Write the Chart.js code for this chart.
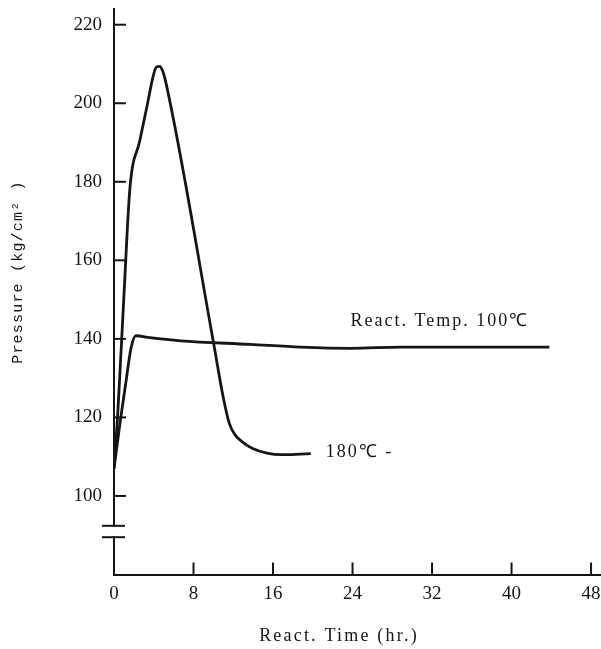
<!DOCTYPE html>
<html><head><meta charset="utf-8">
<script src="https://cdn.jsdelivr.net/npm/chart.js@4"></script>
<style>html,body{margin:0;padding:0;background:#fff;}#wrap{width:601px;height:649px;}</style>
</head><body><div id="wrap"><canvas id="c" width="601" height="649"></canvas></div>
<script>
// ---- data ----
const xTicks = [0, 8, 16, 24, 32, 40, 48];
const yTicks = [100, 120, 140, 160, 180, 200, 220];

const t180X = [0, 0.4, 1.0, 1.6, 2.6, 3.3, 4.0, 4.3, 4.6, 4.9, 5.2, 10.0, 11.0, 11.6, 12.2, 13.0, 14.0, 15.4, 16.8, 18.3, 19.8];
const t180Y = [107, 122, 151, 178.3, 190.5, 199, 207.5, 209.3, 209.4, 208.2, 205.5, 139.2, 125, 118.5, 115.5, 113.6, 112, 110.9, 110.5, 110.6, 110.8];

const t100X = [0, 0.6, 1.2, 1.7, 2.2, 3.6, 6.7, 13.7, 18.8, 23.8, 28.9, 43.8];
const t100Y = [107, 118.5, 129, 137.5, 140.8, 140.3, 139.5, 138.6, 137.9, 137.6, 137.9, 137.9];

const seriesNames = ["React. Temp. 100℃", "180℃ -"];
const seriesLabelX = [23.8, 21.3];
const seriesLabelY = [144.6, 111];

const axisBreak = [89.5, 92.4];
const xTitle = "React. Time (hr.)";
const yTitle = "Pressure (kg/cm² )";

const INK = '#151515';

const decor = {
  id: 'decor',
  afterDraw(chart) {
    const ctx = chart.ctx;
    const xs = chart.scales.x, ys = chart.scales.y;
    const ax = xs.getPixelForValue(0), ay = ys.getPixelForValue(80);
    ctx.save();
    ctx.strokeStyle = INK;
    ctx.lineWidth = 2;
    // inward ticks
    yTicks.forEach(v => {
      const py = ys.getPixelForValue(v);
      ctx.beginPath(); ctx.moveTo(ax, py); ctx.lineTo(ax + 12, py); ctx.stroke();
    });
    xTicks.forEach(v => {
      if (v === 0) return;
      const px = xs.getPixelForValue(v);
      ctx.beginPath(); ctx.moveTo(px, ay); ctx.lineTo(px, ay - 12); ctx.stroke();
    });
    // axis break
    const b0 = ys.getPixelForValue(axisBreak[0]), b1 = ys.getPixelForValue(axisBreak[1]);
    ctx.fillStyle = '#fff';
    ctx.fillRect(ax - 3, b1 + 1, 6, b0 - b1 - 2);
    [b0, b1].forEach(py => {
      ctx.beginPath(); ctx.moveTo(ax - 12, py); ctx.lineTo(ax + 11, py); ctx.stroke();
    });
    // series labels
    ctx.fillStyle = INK;
    ctx.font = '18px "Liberation Serif", serif';
    ctx.textBaseline = 'middle';
    ctx.textAlign = 'left';
    if ('letterSpacing' in ctx) ctx.letterSpacing = '2px';
    seriesNames.forEach((s, i) => {
      ctx.fillText(s, xs.getPixelForValue(seriesLabelX[i]), ys.getPixelForValue(seriesLabelY[i]));
    });
    // x title
    ctx.textAlign = 'center';
    ctx.font = '18px "Liberation Serif", serif';
    if ('letterSpacing' in ctx) ctx.letterSpacing = '2.2px';
    ctx.fillText(xTitle, 339, 636);
    // y title
    ctx.translate(18, 272);
    ctx.rotate(-Math.PI / 2);
    ctx.font = '15px "Liberation Mono", monospace';
    if ('letterSpacing' in ctx) ctx.letterSpacing = '1.2px';
    ctx.fillText(yTitle, 0, 0);
    ctx.restore();
  }
};

new Chart(document.getElementById('c'), {
  type: 'line',
  data: {
    datasets: [
      { label: seriesNames[0], data: t100X.map((x, i) => ({ x, y: t100Y[i] })) },
      { label: seriesNames[1], data: t180X.map((x, i) => ({ x, y: t180Y[i] })) }
    ].map(d => Object.assign(d, {
      borderColor: INK, borderWidth: 2.8, pointRadius: 0, fill: false,
      cubicInterpolationMode: 'monotone'
    }))
  },
  options: {
    responsive: false, animation: false, devicePixelRatio: 1,
    layout: { padding: { top: 9, right: 0, left: 0, bottom: 0 } },
    plugins: { legend: { display: false }, tooltip: { enabled: false } },
    scales: {
      x: {
        type: 'linear', min: 0, max: 49,
        afterBuildTicks: s => { s.ticks = xTicks.map(v => ({ value: v })); },
        afterFit: s => { s.height = 74.5; s.paddingLeft = 0; s.paddingRight = 0; },
        grid: { display: false },
        border: { display: true, color: INK, width: 2 },
        ticks: { color: INK, padding: 0, maxRotation: 0, autoSkip: false,
                 font: { family: '"Liberation Serif", serif', size: 19 } }
      },
      y: {
        type: 'linear', min: 80, max: 224,
        afterBuildTicks: s => { s.ticks = yTicks.map(v => ({ value: v })); },
        afterFit: s => { s.width = 114; s.paddingTop = 0; s.paddingBottom = 0; },
        grid: { display: false },
        border: { display: true, color: INK, width: 2 },
        ticks: { color: INK, padding: 4, autoSkip: false,
                 font: { family: '"Liberation Serif", serif', size: 19 } }
      }
    }
  },
  plugins: [decor]
});
</script></body></html>
